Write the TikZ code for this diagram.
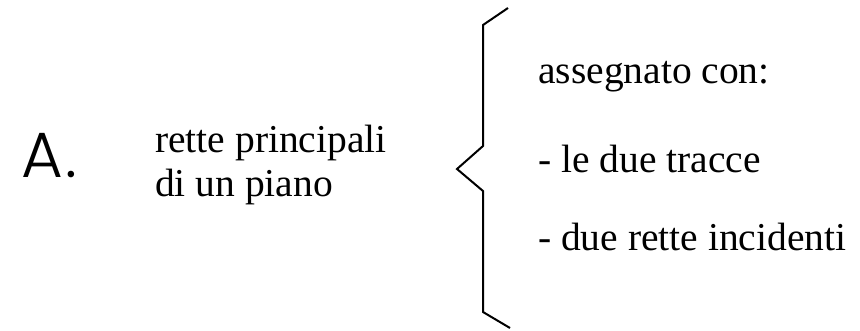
\documentclass[tikz,border=0pt]{standalone}
\usepackage{fontspec}
\setmainfont{Liberation Serif}
\IfFontExistsTF{Poppins Light}
  {\newfontfamily\letterfont{Poppins Light}}
  {\newfontfamily\letterfont{Poppins}}
\usepackage{tikz}
\usetikzlibrary{calc}
\usetikzlibrary{positioning}

\begin{document}
\begin{tikzpicture}[x=1pt,y=-1pt,
    txt/.style={anchor=base west,inner sep=0pt,font=\fontsize{39.5}{44}\selectfont},
    lbl/.style={anchor=base west,inner sep=0pt,font=\letterfont\fontsize{64}{70}\selectfont}]
    \useasboundingbox (0,0) rectangle (860,330);
    \node[lbl] (A) at (21,177) {A\kern3pt.};
    \node[txt] (r1) at (155,152) {rette principali};
    \node[txt] (r2) at (155,196) {di un piano};
    % brace
    \coordinate (top) at (508,8);
    \coordinate (tip) at (457,169);
    \coordinate (bot) at (510,328);
    \draw[line width=2pt,line join=miter]
      (top) -- (483,25) -- (483,146) -- (tip)
      -- (483,191) -- (483,312) -- (bot);
    \node[txt] (c0) at (538,83) {assegnato con:};
    \node[txt] (c1) at (538,172) {- le due tracce};
    \node[txt] (c2) at (538,250) {- due rette incidenti};
  \end{tikzpicture}
\end{document}
